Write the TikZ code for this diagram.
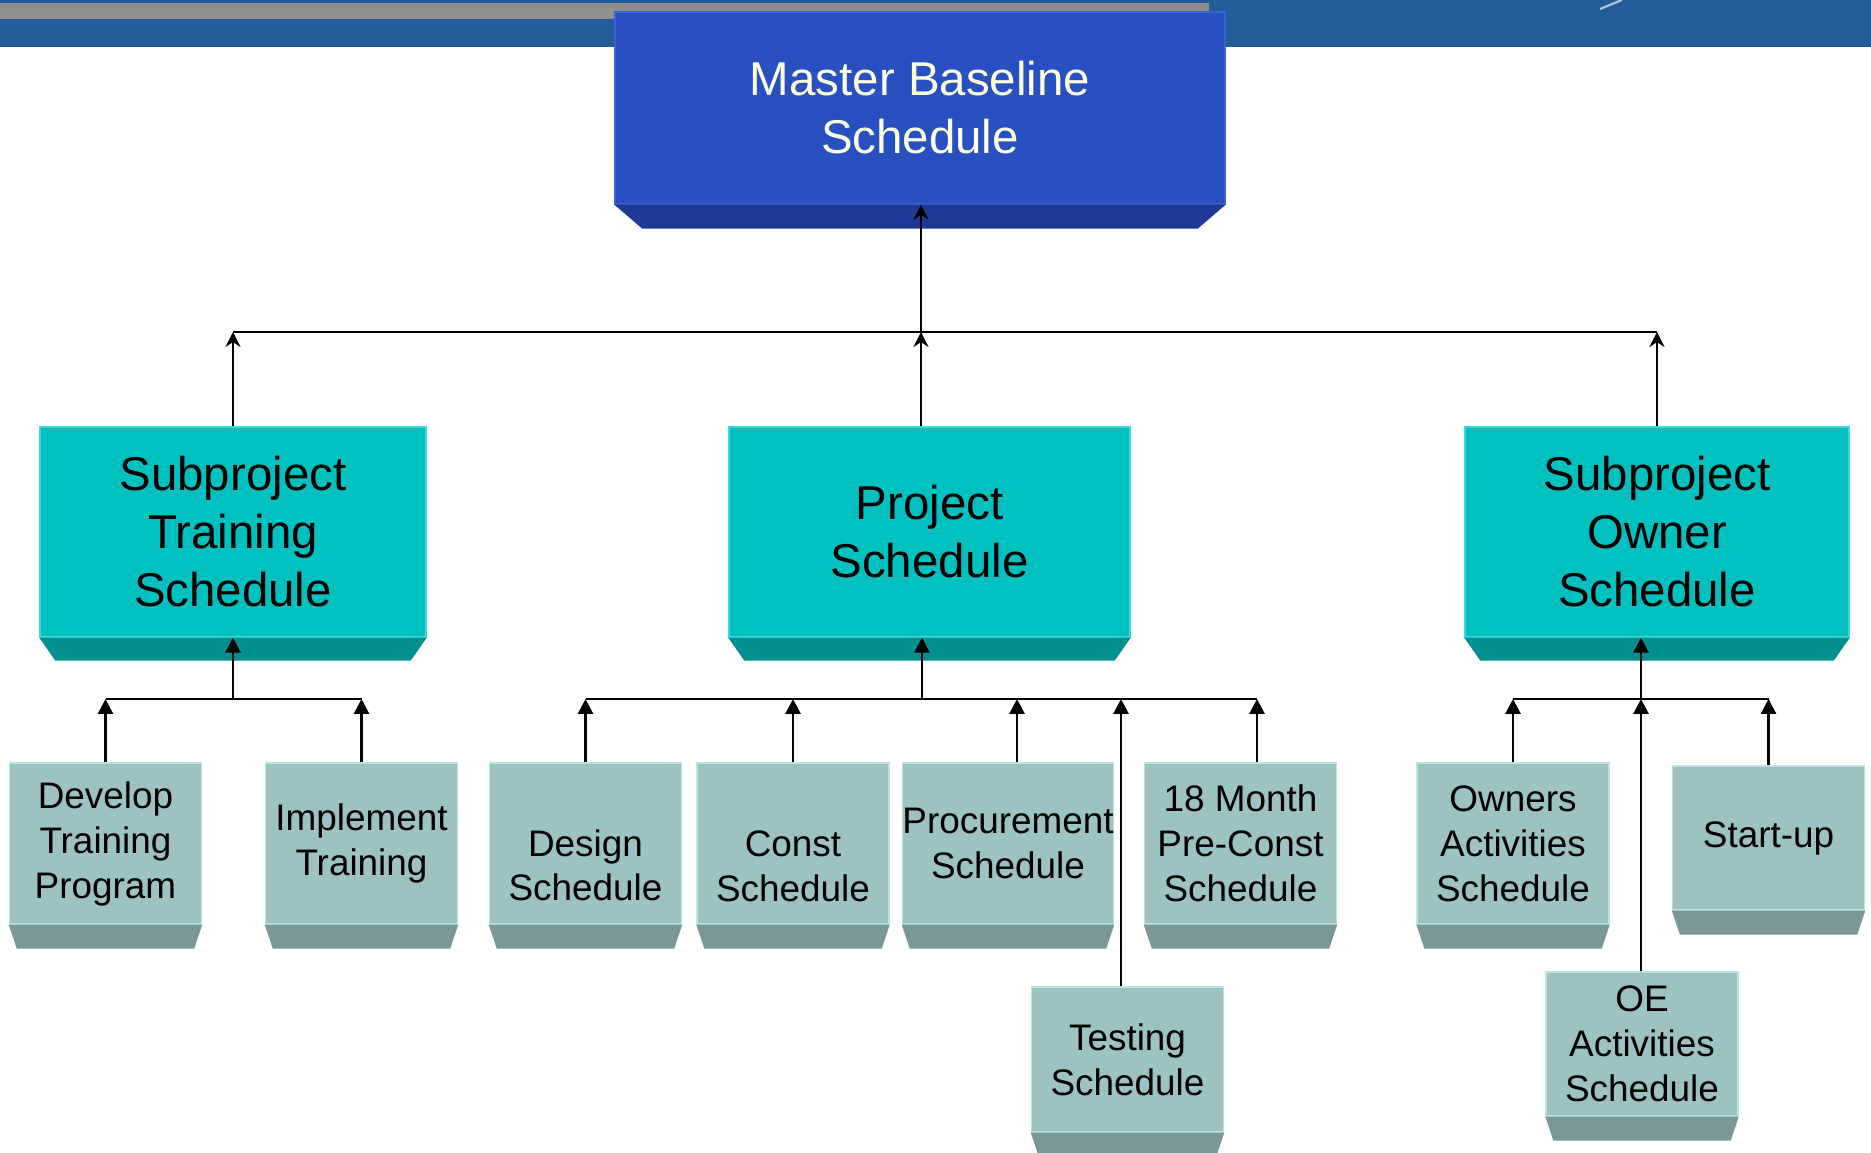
\documentclass[tikz,border=0pt]{standalone}
\usepackage{fontspec}
\setmainfont{Liberation Sans}
\usetikzlibrary{arrows.meta}
\usetikzlibrary{calc}
\definecolor{bandblue}{HTML}{245C99}
\definecolor{graystrip}{HTML}{8F8F8F}
\definecolor{masterface}{HTML}{2850C0}
\definecolor{masterbevel}{HTML}{1F3A96}
\definecolor{masteredge}{HTML}{3A62D0}
\definecolor{mastertext}{HTML}{FFFFE0}
\definecolor{subface}{HTML}{00C0C0}
\definecolor{subbevel}{HTML}{009090}
\definecolor{subedge}{HTML}{40D8D8}
\definecolor{taskface}{HTML}{9CC2C2}
\definecolor{taskbevel}{HTML}{7A9898}
\definecolor{taskedge}{HTML}{B8E4E4}

\begin{document}
\begin{tikzpicture}
	[box/.style={rectangle, inner sep=0pt, line width=0.4pt, align=center},
	masterbox/.style={box, fill=masterface, draw=masteredge, text=mastertext, minimum width=6.10cm, minimum height=1.92cm, font=\fontsize{13.5}{16.5}\selectfont},
	subbox/.style={box, fill=subface, draw=subedge, minimum height=2.10cm, font=\fontsize{13.5}{16.5}\selectfont},
	taskbox/.style={box, fill=taskface, draw=taskedge, minimum width=1.92cm, minimum height=1.61cm, font=\fontsize{10.5}{12.8}\selectfont},
	link/.style={line width=0.8pt},
	uparrow/.style={link, -{Stealth[length=0.15cm, width=0.15cm, inset=0.05cm]}},
	tiparrow/.style={link, -{Triangle[length=0.15cm, width=0.15cm]}}]
	\useasboundingbox (0,0) rectangle (18.71,11.52);
	\fill[bandblue] (0,11.05) rectangle (18.71,11.52);
	\fill[graystrip] (0,11.33) rectangle (12.09,11.49);
	\draw[white!65!bandblue, line width=0.6pt] (16.00,11.43) -- (16.22,11.52);

	\node[masterbox] (mbs) at (9.20,10.44) {Master Baseline\\Schedule};

	\node[subbox, minimum width=3.86cm] (sts) at (2.33,6.20) {Subproject\\Training\\Schedule};
	\node[subbox, minimum width=4.01cm] (ps) at (9.295,6.20) {Project\\Schedule};
	\node[subbox, minimum width=3.84cm] (sos) at (16.57,6.20) {Subproject\\Owner\\Schedule};

	\node[taskbox] (dtp) at (1.055,3.085) {Develop\\Training\\Program};
	\node[taskbox] (it) at (3.615,3.085) {Implement\\Training};
	\node[taskbox] (ds) at (5.855,3.085) {\vphantom{D}\\Design\\Schedule};
	\node[taskbox] (cs) at (7.93,3.085) {\vphantom{C}\\Const\\Schedule};
	\node[taskbox, minimum width=2.08cm] (prs) at (10.08,3.085) {Procurement\\Schedule};
	\node[taskbox] (pcs) at (12.405,3.085) {18 Month\\Pre-Const\\Schedule};
	\node[taskbox, minimum height=1.45cm] (tes) at (11.275,0.925) {Testing\\Schedule};
	\node[taskbox] (oas) at (15.13,3.085) {Owners\\Activities\\Schedule};
	\node[taskbox, minimum height=1.44cm] (oea) at (16.42,1.08) {OE\\Activities\\Schedule};
	\node[taskbox, minimum height=1.44cm] (sup) at (17.685,3.14) {Start-up};

	\fill[masterbevel] (mbs.south west) -- (mbs.south east) -- ([shift={(-0.28,-0.24)}]mbs.south east) -- ([shift={(0.28,-0.24)}]mbs.south west) -- cycle;
	\foreach \n in {sts,ps,sos}
		\fill[subbevel] (\n.south west) -- (\n.south east) -- ([shift={(-0.16,-0.23)}]\n.south east) -- ([shift={(0.16,-0.23)}]\n.south west) -- cycle;
	\foreach \n in {dtp,it,ds,cs,prs,pcs,tes,oas,oea,sup}
		\fill[taskbevel] (\n.south west) -- (\n.south east) -- ([shift={(-0.08,-0.24)}]\n.south east) -- ([shift={(0.08,-0.24)}]\n.south west) -- cycle;

	\coordinate (top) at (9.21,8.20);
	\draw[uparrow] (top) -- (top |- mbs.south);
	\draw[link] (sts.north |- top) -- (sos.north |- top);
	\draw[uparrow] (sts.north) -- (sts.north |- top);
	\draw[uparrow] (ps.north -| top) -- (top);
	\draw[uparrow] (sos.north) -- (sos.north |- top);

	\coordinate (tj) at (2.33,4.53);
	\draw[link] (dtp.north |- tj) -- (it.north |- tj);
	\draw[tiparrow] (tj) -- (sts.south);
	\draw[tiparrow] (dtp.north) -- (dtp.north |- tj);
	\draw[tiparrow] (it.north) -- (it.north |- tj);

	\coordinate (pj) at (9.22,4.53);
	\coordinate (pa) at (10.17,4.53);
	\coordinate (ta) at (11.21,4.53);
	\coordinate (ma) at (12.57,4.53);
	\draw[link] (ds.north |- pj) -- (ma);
	\draw[tiparrow] (pj) -- (pj |- ps.south);
	\draw[tiparrow] (ds.north) -- (ds.north |- pj);
	\draw[tiparrow] (cs.north) -- (cs.north |- pj);
	\draw[tiparrow] (prs.north -| pa) -- (pa);
	\draw[tiparrow] (tes.north -| ta) -- (ta);
	\draw[tiparrow] (pcs.north -| ma) -- (ma);

	\coordinate (oj) at (16.41,4.53);
	\draw[link] (oas.north |- oj) -- (sup.north |- oj);
	\draw[tiparrow] (oj) -- (oj |- sos.south);
	\draw[tiparrow] (oas.north) -- (oas.north |- oj);
	\draw[tiparrow] (oea.north -| oj) -- (oj);
	\draw[tiparrow] (sup.north) -- (sup.north |- oj);
\end{tikzpicture}
\end{document}
